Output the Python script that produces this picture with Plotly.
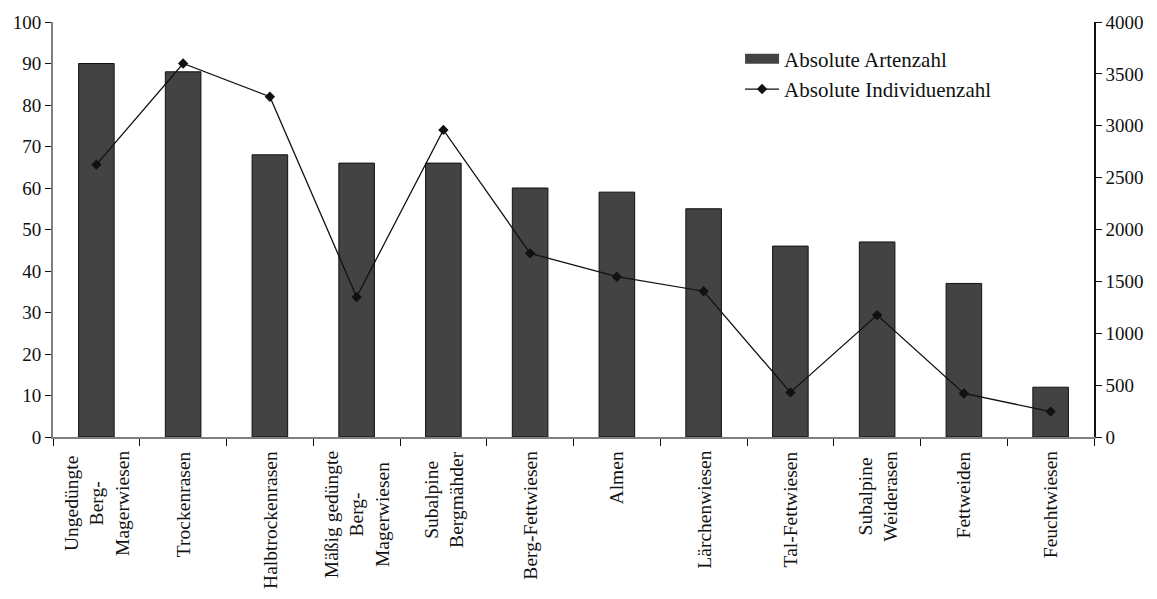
import plotly.graph_objects as go

# Grassland types (x categories) and their wrapped axis labels
categories = [
    "Ungedüngte Berg-Magerwiesen", "Trockenrasen", "Halbtrockenrasen",
    "Mäßig gedüngte Berg-Magerwiesen", "Subalpine Bergmähder", "Berg-Fettwiesen",
    "Almen", "Lärchenwiesen", "Tal-Fettwiesen", "Subalpine Weiderasen",
    "Fettweiden", "Feuchtwiesen",
]
tick_labels = [
    "Ungedüngte<br>Berg-<br>Magerwiesen", "Trockenrasen", "Halbtrockenrasen",
    "Mäßig gedüngte<br>Berg-<br>Magerwiesen", "Subalpine<br>Bergmähder", "Berg-Fettwiesen",
    "Almen", "Lärchenwiesen", "Tal-Fettwiesen", "Subalpine<br>Weiderasen",
    "Fettweiden", "Feuchtwiesen",
]

# Species count (left axis) and individual count (right axis)
artenzahl = [90, 88, 68, 66, 66, 60, 59, 55, 46, 47, 37, 12]
individuenzahl = [2625, 3600, 3280, 1350, 2960, 1770, 1545, 1405, 430, 1175, 420, 245]

FONT = "Liberation Serif"
BAR_FILL = "#434343"
INK = "#111111"

fig = go.Figure()
fig.add_trace(go.Bar(
    x=categories, y=artenzahl, name="Absolute Artenzahl",
    marker=dict(color=BAR_FILL, line=dict(color=INK, width=1)),
    width=0.41, showlegend=False,
))
# Legend entry for the bars drawn as a wide swatch
fig.add_trace(go.Scatter(
    x=[None], y=[None], name="Absolute Artenzahl", mode="lines",
    line=dict(color=BAR_FILL, width=12), legendgroup="a", hoverinfo="skip",
))
fig.add_trace(go.Scatter(
    x=categories, y=individuenzahl, name="Absolute Individuenzahl",
    yaxis="y2", mode="lines+markers",
    line=dict(color=INK, width=1.3),
    marker=dict(symbol="diamond", size=8, color=INK),
    legendgroup="b",
))

# Category labels, rotated and centred under each bar
for cat, lab in zip(categories, tick_labels):
    fig.add_annotation(
        x=cat, xref="x", y=0, yref="paper", yanchor="top", yshift=-12,
        text=lab, textangle=-90, showarrow=False, align="center",
        font=dict(family=FONT, size=19.5, color=INK),
    )

axis_common = dict(showgrid=False, zeroline=False, tickcolor=INK,
                   tickfont=dict(family=FONT, size=19, color=INK))

fig.update_layout(
    width=1157, height=599,
    margin=dict(l=53, r=63, t=15, b=162),
    plot_bgcolor="white", paper_bgcolor="white",
    font=dict(family=FONT, size=19, color=INK),
    bargap=0.59,
    xaxis=dict(
        type="category", categoryorder="array", categoryarray=categories,
        range=[-0.5, len(categories) - 0.5],
        showticklabels=False, ticks="outside", ticklen=7, tickson="boundaries",
        showline=True, linecolor="#7f7f7f", linewidth=2,
        showgrid=False, zeroline=False, tickcolor=INK,
    ),
    xaxis2=dict(
        type="category", categoryorder="array", categoryarray=categories,
        range=[-0.5, len(categories) - 0.5], overlaying="x", anchor="y",
        showticklabels=False, ticks="inside", ticklen=7, tickson="boundaries",
        showline=False, showgrid=False, zeroline=False, tickcolor=INK,
    ),
    yaxis=dict(
        range=[0, 100], dtick=10, ticks="outside", ticklen=6,
        showline=True, linecolor="#7f7f7f", linewidth=2, **axis_common,
    ),
    yaxis3=dict(
        range=[0, 100], dtick=10, ticks="inside", ticklen=6, overlaying="y",
        showticklabels=False, showline=False, showgrid=False, zeroline=False,
        tickcolor=INK,
    ),
    yaxis2=dict(
        range=[0, 4000], dtick=500, ticks="outside", ticklen=6,
        overlaying="y", side="right",
        showline=True, linecolor=INK, linewidth=1.5, **axis_common,
    ),
    yaxis4=dict(
        range=[0, 4000], dtick=500, ticks="inside", ticklen=6,
        overlaying="y", side="right", anchor="x",
        showticklabels=False, showline=False, showgrid=False, zeroline=False,
        tickcolor=INK,
    ),
    legend=dict(
        x=0.66, y=0.96, xanchor="left", yanchor="top",
        bgcolor="rgba(0,0,0,0)", font=dict(family=FONT, size=21, color=INK),
        traceorder="grouped", tracegroupgap=0, itemwidth=34,
    ),
    showlegend=True,
)

fig.write_html("out.html")
